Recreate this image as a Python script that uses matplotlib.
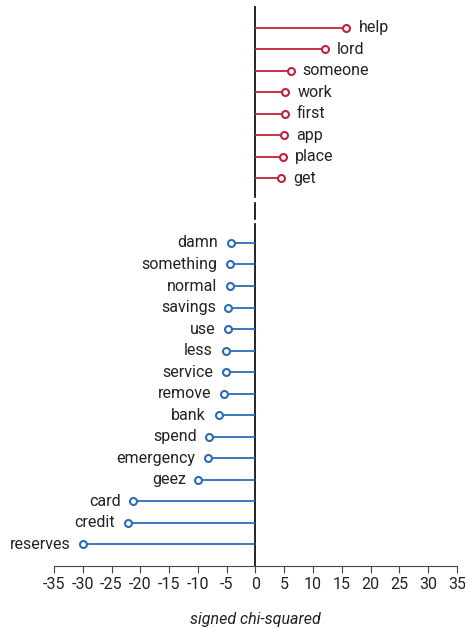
import numpy as np
import matplotlib.pyplot as plt

plt.rcParams['font.family'] = ['Roboto', 'DejaVu Sans']

# positive (red) terms, top block
pos_terms = ['help', 'lord', 'someone', 'work', 'first', 'app', 'place', 'get']
pos_vals = [15.8, 12.0, 6.1, 5.2, 5.1, 4.9, 4.7, 4.5]

# negative (blue) terms, bottom block
neg_terms = ['damn', 'something', 'normal', 'savings', 'use', 'less', 'service',
             'remove', 'bank', 'spend', 'emergency', 'geez', 'card', 'credit', 'reserves']
neg_vals = [-4.3, -4.5, -4.5, -4.7, -4.7, -5.2, -5.2, -5.4, -6.4, -8.0, -8.2,
            -9.9, -21.2, -22.2, -29.9]

xticks = list(range(-35, 40, 5))

red = '#C0213F'
blue = '#2B6CB5'

fig = plt.figure(figsize=(4.65, 6.28), dpi=100)
ax = fig.add_axes([0.1161, 0.0987, 0.8667, 0.8917])

pos_y = np.arange(len(pos_terms))
neg_y = np.arange(len(neg_terms)) + len(pos_terms) + 2

# zero line, broken between the two blocks
ax.plot([0, 0], [-1, 7.85], color='black', lw=1.2, zorder=1)
ax.plot([0, 0], [8.15, 8.9], color='black', lw=1.2, zorder=1)
ax.plot([0, 0], [9.1, 25], color='black', lw=1.2, zorder=1)

ax.hlines(pos_y, 0, pos_vals, color=red, lw=1.3, zorder=2)
ax.plot(pos_vals, pos_y, 'o', ms=5, mfc='white', mec=red, mew=1.5, zorder=3)
for t, v, y in zip(pos_terms, pos_vals, pos_y):
    ax.text(v + 2.1, y, t, ha='left', va='center', fontsize=11.5, color='#222222')

ax.hlines(neg_y, 0, neg_vals, color=blue, lw=1.3, zorder=2)
ax.plot(neg_vals, neg_y, 'o', ms=5, mfc='white', mec=blue, mew=1.5, zorder=3)
for t, v, y in zip(neg_terms, neg_vals, neg_y):
    ax.text(v - 2.2, y, t, ha='right', va='center', fontsize=11.5, color='#222222')

ax.set_xlim(-35, 35)
ax.set_ylim(25, -1)
ax.set_xticks(xticks)
ax.set_xticklabels([str(x) for x in xticks], fontsize=11.5, color='#222222')
ax.set_yticks([])
for s in ['left', 'right', 'top']:
    ax.spines[s].set_visible(False)
ax.spines['bottom'].set_color('#444444')
ax.tick_params(axis='x', length=5, color='#444444', pad=3)
ax.set_xlabel('signed chi-squared', fontsize=11.5, style='italic', labelpad=14, color='#222222')
ax.patch.set_alpha(0)

fig.savefig('out.png', dpi=100)
